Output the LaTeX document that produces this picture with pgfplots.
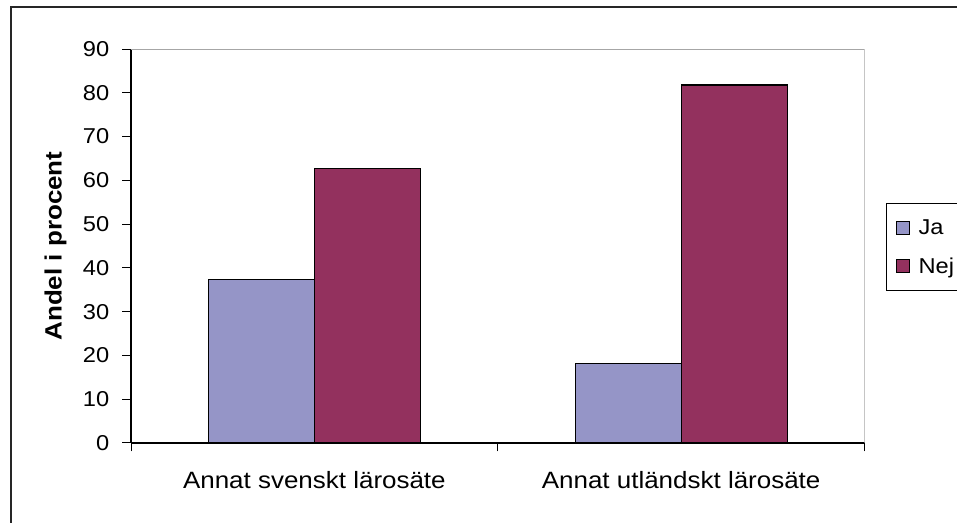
\documentclass[border=0pt]{standalone}
\usepackage{pgfplots}
\pgfplotsset{compat=1.18}
\usepackage{fontspec}
\setmainfont[FakeStretch=1.1]{Liberation Sans}
\definecolor{jacol}{RGB}{149,149,199}
\definecolor{nejcol}{RGB}{147,49,94}
\begin{document}
\fontsize{21bp}{25bp}\selectfont
\begin{tikzpicture}
\begin{axis}[
  scale only axis,
  width=733.5bp, height=394bp,
  at={(131bp,80bp)}, anchor=south west,
  ybar=0pt, bar width=106bp,
  xmin=-0.5, xmax=1.5, ymin=0, ymax=90,
  axis x line*=bottom, axis y line*=left,
  axis line style={-, black, line width=1.2bp},
  xtick={-0.5,0.5,1.5}, xticklabels={},
  extra x ticks={0,1},
  extra x tick labels={Annat svenskt lärosäte, Annat utländskt lärosäte},
  extra x tick style={major tick length=0pt, xticklabel style={anchor=base, yshift=-45bp, font=\fontsize{23.6bp}{28bp}\selectfont}},
  ytick={0,10,...,90},
  tick align=outside, major tick length=8.5bp,
  tick style={black, line width=1bp},
  /pgf/number format/assume math mode=true,
  ticklabel style={font=\fontsize{21.5bp}{25bp}\selectfont},
  yticklabel style={anchor=east, xshift=-6bp},
  ylabel={\bfseries Andel i procent},
  ylabel style={font=\fontsize{23.6bp}{28bp}\selectfont, at={(axis description cs:-0.103,0.5)}, anchor=center},
  legend style={at={(axis description cs:1.0295,0.6085)}, anchor=north west,
    draw=black, line width=0.8bp, inner xsep=2bp, inner ysep=11bp,
    font=\fontsize{21.5bp}{25bp}\selectfont, row sep=12.5bp,
    nodes={text height=18bp, text depth=4bp, text width=80bp, inner sep=2bp}},
  legend image code/.code={\draw[#1, line width=1bp] (8bp,-6.5bp) rectangle (21bp,6.5bp);
    \path[draw=none, fill=none] (0bp,0bp) -- (28bp,0bp);},
  legend cell align=left,
]
\addplot[fill=jacol, draw=black, line width=1.2bp] coordinates {(0,37.3) (1,18.2)};
\addplot[fill=nejcol, draw=black, line width=1.2bp] coordinates {(0,62.7) (1,81.8)};
\legend{Ja, Nej}
\draw[gray!70, line width=1.5bp] (rel axis cs:0,1) -- (rel axis cs:1,1) -- (rel axis cs:1,0);
\end{axis}
\draw[black!85, line width=2bp] (11bp,-20bp) -- (11bp,516bp) -- (990bp,516bp);
\pgfresetboundingbox
\useasboundingbox (0,0) rectangle (957bp,523bp);
\end{tikzpicture}
\end{document}
